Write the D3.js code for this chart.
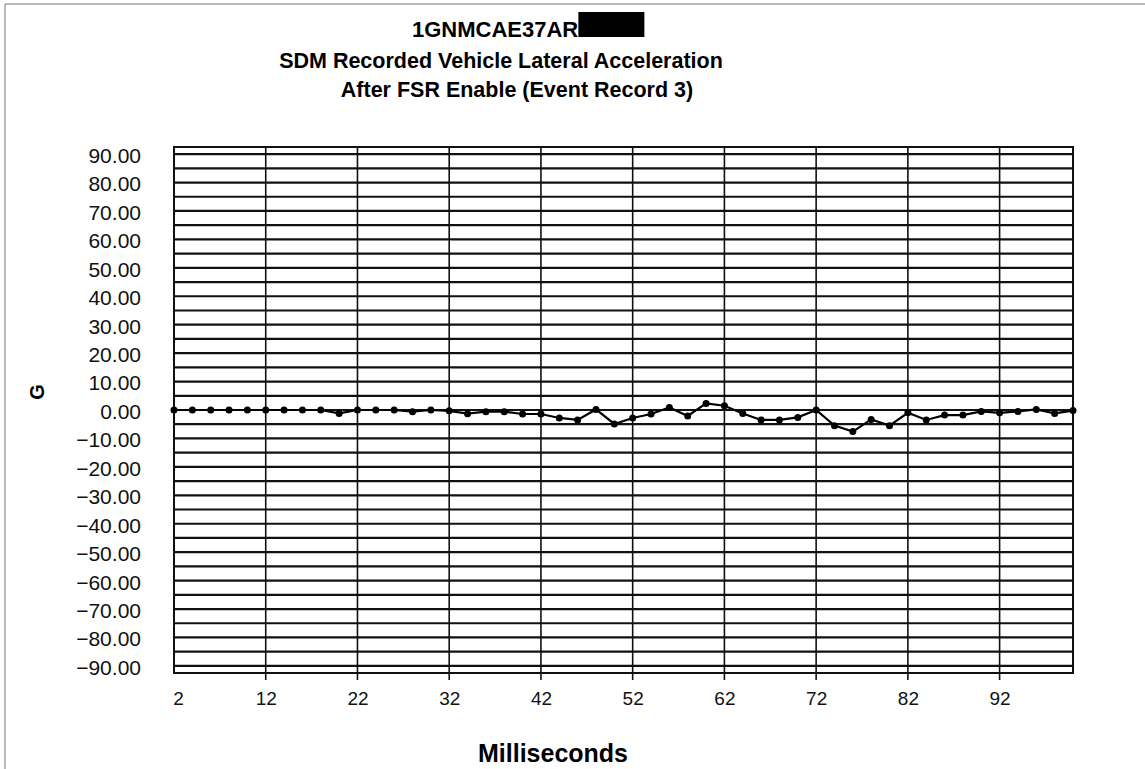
<!DOCTYPE html>
<html>
<head>
<meta charset="utf-8">
<script src="https://cdn.jsdelivr.net/npm/d3@7"></script>
<style>
  body { margin: 0; background: #fff; }
  svg { font-family: "Liberation Sans", Arial, sans-serif; }
</style>
</head>
<body>
<div id="chart"></div>
<script>
// sample times (ms) and recorded lateral acceleration (G)
var ms = [2, 4, 6, 8, 10, 12, 14, 16, 18, 20,
          22, 24, 26, 28, 30, 32, 34, 36, 38, 40,
          42, 44, 46, 48, 50, 52, 54, 56, 58, 60,
          62, 64, 66, 68, 70, 72, 74, 76, 78, 80,
          82, 84, 86, 88, 90, 92, 94, 96, 98, 100];
var gValues = [0, 0, 0, 0, 0, 0, 0, 0, 0, -1.2,
               0, 0, 0, -0.6, 0, -0.3, -1.3, -0.6, -0.6, -1.4,
               -1.4, -2.8, -3.5, 0.2, -4.9, -2.8, -1.4, 0.9, -2.1, 2.3,
               1.5, -1.2, -3.5, -3.5, -2.6, 0, -5.5, -7.6, -3.3, -5.5,
               -1, -3.5, -1.8, -1.8, -0.5, -1, -0.5, 0.2, -1.2, -0.2];
var xTicks = [2, 12, 22, 32, 42, 52, 62, 72, 82, 92];
var yTicks = [90, 80, 70, 60, 50, 40, 30, 20, 10, 0, -10, -20, -30, -40, -50, -60, -70, -80, -90];
var yGrid = [90, 85, 80, 75, 70, 65, 60, 55, 50, 45, 40, 35, 30, 25, 20, 15, 10, 5, 0,
             -5, -10, -15, -20, -25, -30, -35, -40, -45, -50, -55, -60, -65, -70, -75, -80, -85, -90];
var titleLines = ["1GNMCAE37AR", "SDM Recorded Vehicle Lateral Acceleration", "After FSR Enable (Event Record 3)"];

var w = 1145, h = 769;
var plotL = 174, plotR = 1073, plotT = 147, plotB = 673;

var svg = d3.select("#chart").append("svg")
    .attr("width", w)
    .attr("height", h);

// scanned page frame
svg.append("line").attr("x1", 5).attr("y1", 4).attr("x2", w).attr("y2", 4)
    .attr("stroke", "#777").attr("stroke-width", 1);
svg.append("line").attr("x1", 5).attr("y1", 4).attr("x2", 5).attr("y2", h)
    .attr("stroke", "#777").attr("stroke-width", 1);

var x = d3.scaleLinear().domain([2, 100]).range([plotL, plotR]);
var y = d3.scaleLinear().domain([-92.5, 92.5]).range([plotB, plotT]);

// horizontal grid
svg.append("g").selectAll("line")
    .data(yGrid)
    .enter().append("line")
    .attr("x1", plotL).attr("x2", plotR)
    .attr("y1", d => y(d)).attr("y2", d => y(d))
    .attr("stroke", "#111").attr("stroke-width", 2.2);

// vertical grid, running a little below the frame as tick marks
svg.append("g").selectAll("line")
    .data(xTicks.slice(1))
    .enter().append("line")
    .attr("x1", d => x(d)).attr("x2", d => x(d))
    .attr("y1", plotT).attr("y2", plotB + 7)
    .attr("stroke", "#111").attr("stroke-width", 1.6);

svg.append("rect")
    .attr("x", plotL).attr("y", plotT)
    .attr("width", plotR - plotL).attr("height", plotB - plotT)
    .attr("fill", "none").attr("stroke", "#111").attr("stroke-width", 2);

// axes (labels only)
var xAxis = d3.axisBottom(x).tickValues(xTicks).tickSize(0).tickPadding(19);
var gx = svg.append("g").attr("transform", `translate(0,${plotB})`).call(xAxis);
gx.select(".domain").remove();
gx.selectAll("text").attr("font-size", 19).attr("fill", "#111");
gx.selectAll(".tick").filter(d => d === 2).select("text").attr("dx", 4);

var yAxis = d3.axisLeft(y).tickValues(yTicks).tickSize(0).tickPadding(33).tickFormat(d3.format(".2f"));
var gy = svg.append("g").attr("transform", `translate(${plotL},0)`).call(yAxis);
gy.select(".domain").remove();
gy.selectAll("text").attr("font-size", 21).attr("fill", "#111").attr("dy", "0.4em");

// series
var line = d3.line()
    .x((d, i) => x(ms[i]))
    .y(d => y(d));

svg.append("path")
    .datum(gValues)
    .attr("d", line)
    .attr("fill", "none")
    .attr("stroke", "#000")
    .attr("stroke-width", 2.2);

svg.append("g").selectAll("circle")
    .data(gValues)
    .enter().append("circle")
    .attr("cx", (d, i) => x(ms[i]))
    .attr("cy", d => y(d))
    .attr("r", 3.5)
    .attr("fill", "#000");

// titles
var t1 = svg.append("text")
    .attr("x", 412).attr("y", 37)
    .attr("font-size", 22).attr("font-weight", "bold")
    .text(titleLines[0]);
var bb = t1.node().getBBox();
svg.append("rect")
    .attr("x", bb.x + bb.width).attr("y", 12)
    .attr("width", 66).attr("height", 25)
    .attr("fill", "#000");

svg.append("text")
    .attr("x", 501).attr("y", 68)
    .attr("text-anchor", "middle")
    .attr("font-size", 21.5).attr("font-weight", "bold")
    .text(titleLines[1]);

svg.append("text")
    .attr("x", 517).attr("y", 97)
    .attr("text-anchor", "middle")
    .attr("font-size", 21.5).attr("font-weight", "bold")
    .text(titleLines[2]);

svg.append("text")
    .attr("transform", "translate(44,392) rotate(-90)")
    .attr("text-anchor", "middle")
    .attr("font-size", 20).attr("font-weight", "bold")
    .text("G");

svg.append("text")
    .attr("x", 553).attr("y", 762)
    .attr("text-anchor", "middle")
    .attr("font-size", 25).attr("font-weight", "bold")
    .text("Milliseconds");
</script>
</body>
</html>
